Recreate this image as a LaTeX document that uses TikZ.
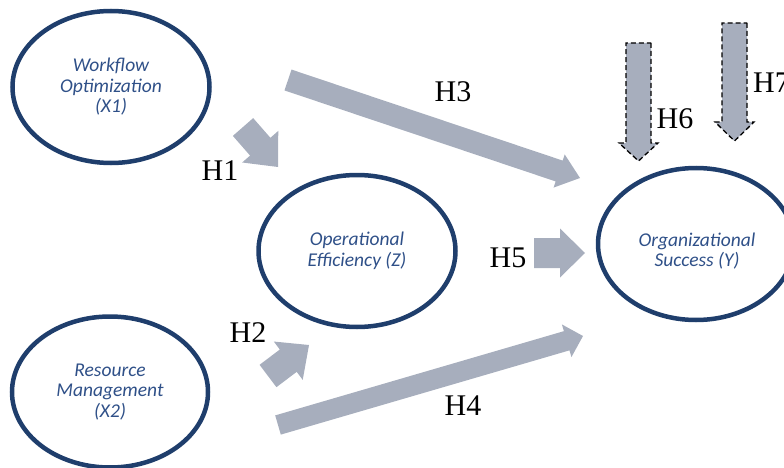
\documentclass[tikz,border=0pt]{standalone}
\usepackage{fontspec}
\setmainfont{Liberation Serif}
\newfontfamily\ellfont{Carlito}
\usetikzlibrary{calc,shapes.geometric}
\definecolor{ellline}{HTML}{1F3E6C}
\definecolor{elltext}{HTML}{2F5088}
\definecolor{arrowgray}{HTML}{A7AEBD}
\tikzset{
  ell/.style={ellipse, draw=ellline, line width=4.5pt, inner sep=0pt, align=center,
    text=elltext, font=\ellfont\itshape\fontsize{19.5}{20.5}\selectfont},
  barrow/.style={fill=arrowgray, draw=none},
  dasharrow/.style={draw=black, line width=1.3pt, dash pattern=on 5pt off 3pt},
  hlab/.style={font=\fontsize{30}{32}\selectfont, inner sep=0pt, text=black},
}
\newcommand\blockarrow[6][]{%
  \coordinate (#2-#3-c) at ($(#3)!#6!(#2)$);
  \path[barrow,#1] ($(#2)!#4!90:(#3)$) -- ($(#2-#3-c)!#4!90:(#3)$) -- ($(#2-#3-c)!#5!90:(#3)$) -- (#3) -- ($(#2-#3-c)!#5!-90:(#3)$) -- ($(#2-#3-c)!#4!-90:(#3)$) -- ($(#2)!#4!-90:(#3)$) -- cycle;
}
\begin{document}
\begin{tikzpicture}[x=1pt,y=-1pt]
\useasboundingbox (0,0) rectangle (784,468);
% ellipses
\node[ell, minimum width=197pt, minimum height=152pt] (X1) at (111,87) {Workflow\\Optimization\\(X1)};
\node[ell, minimum width=197pt, minimum height=152pt] (Z) at (357,251) {Operational\\Efficiency (Z)};
\node[ell, minimum width=196pt, minimum height=151pt] (X2) at (110,392) {Resource\\Management\\(X2)};
\node[ell, minimum width=196pt, minimum height=152pt] (Y) at (696,244) {};
\node[ell, draw=none] (Ytxt) at (697,251) {Organizational\\Success (Y)};
% arrow end points
\coordinate (h1a) at (243,127); \coordinate (h1b) at (278,167);
\coordinate (h2a) at (268,376); \coordinate (h2b) at (309,345);
\coordinate (h3a) at (288,80);  \coordinate (h3b) at (580,178);
\coordinate (h4a) at (278,425); \coordinate (h4b) at (583,336);
\coordinate (h5a) at (534,253); \coordinate (h5b) at (585,253);
\coordinate (h6a) at (638.5,43); \coordinate (h6b) at (638.5,161);
\coordinate (h7a) at (734.5,23); \coordinate (h7b) at (734.5,141);
\blockarrow{h1a}{h1b}{13.5pt}{24pt}{27pt}
\blockarrow{h2a}{h2b}{14pt}{24pt}{26pt}
\blockarrow{h3a}{h3b}{11pt}{17.5pt}{22pt}
\blockarrow{h4a}{h4b}{10pt}{17pt}{17pt}
\blockarrow{h5a}{h5b}{15pt}{24.5pt}{25pt}
\blockarrow[dasharrow]{h6a}{h6b}{12.5pt}{19.5pt}{18pt}
\blockarrow[dasharrow]{h7a}{h7b}{12.5pt}{19.5pt}{19pt}
% labels
\node[hlab] (lH1) at (220,171) {H1};
\node[hlab] (lH2) at (248,333) {H2};
\node[hlab] (lH3) at (453,92) {H3};
\node[hlab] (lH4) at (463,406) {H4};
\node[hlab] (lH5) at (508,258) {H5};
\node[hlab] (lH6) at (675,119) {H6};
\node[hlab, anchor=west] (lH7) at (753,83) {H7};
\end{tikzpicture}
\end{document}
